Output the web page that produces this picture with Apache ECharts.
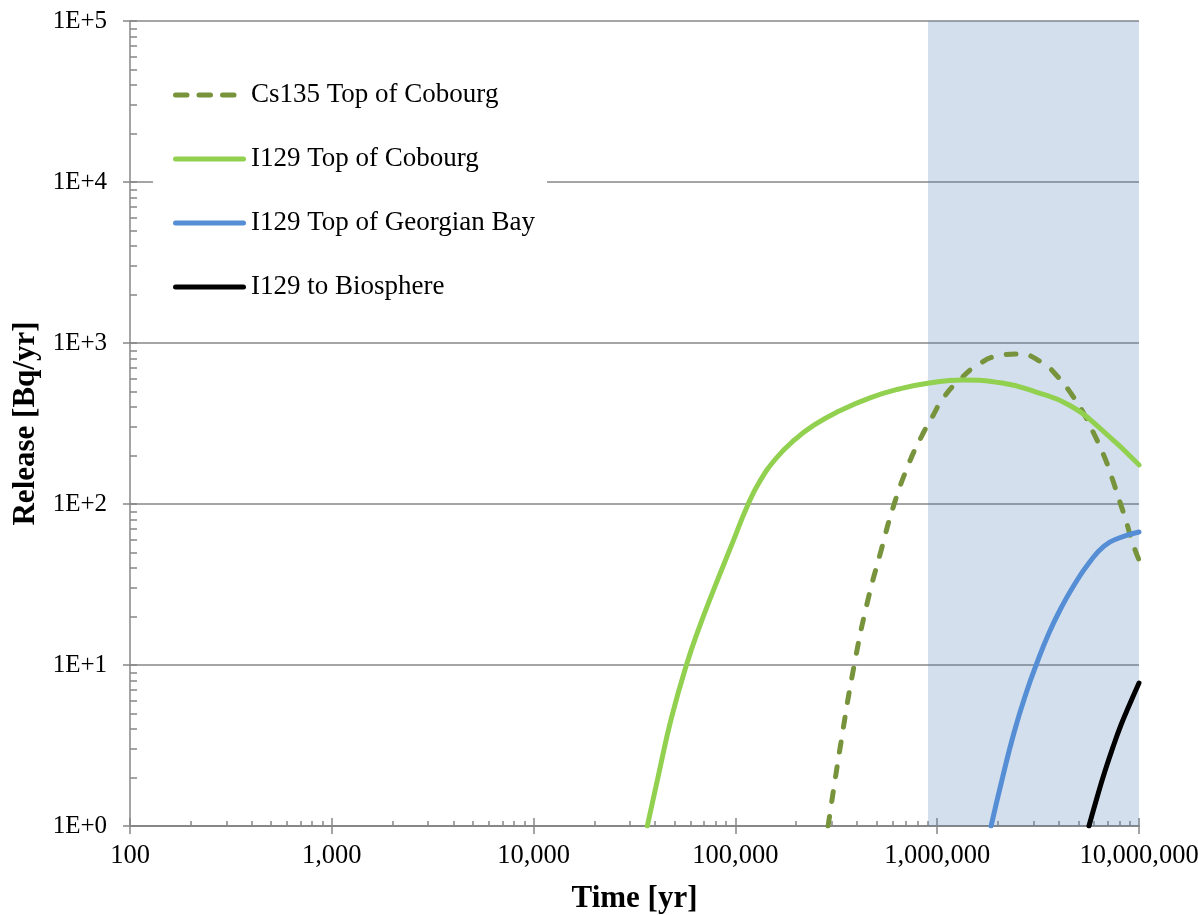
<!DOCTYPE html>
<html>
<head>
<meta charset="utf-8">
<script src="https://cdn.jsdelivr.net/npm/echarts@6/dist/echarts.min.js"></script>
<style>
html,body{margin:0;padding:0;background:#fff;}
#chart{width:1198px;height:915px;}
</style>
</head>
<body>
<div id="chart"></div>
<script>
// ---- Data ----
const seriesNames = ['Cs135 Top of Cobourg', 'I129 Top of Cobourg', 'I129 Top of Georgian Bay', 'I129 to Biosphere'];

const cs135CobourgTime = [288000, 335000, 388000, 450000, 528000, 612000, 726000, 834000, 945000, 1080000, 1320000, 1560000, 1980000, 2550000, 3270000, 3930000, 4660000, 5340000, 5990000, 6710000, 7350000, 7960000, 8630000, 9230000, 10000000];
const cs135CobourgRelease = [1, 3.42, 10, 24.3, 51.8, 100, 180, 261, 347, 462, 606, 719, 830, 854, 762, 624, 475, 362, 272, 199, 145, 107, 78.4, 58.9, 44.9];

const i129CobourgTime = [36600, 42100, 48200, 57200, 66300, 78700, 96700, 114600, 131500, 159600, 196000, 246000, 327000, 461000, 648000, 913000, 1330000, 2100000, 3090000, 4500000, 6560000, 10000000];
const i129CobourgRelease = [1, 2.23, 4.69, 10, 17.2, 30.1, 57.3, 97.2, 137, 193, 250, 310, 378, 455, 518, 564, 589, 564, 496, 412, 288, 175];

const i129GeorgianTime = [1850000, 2100000, 2400000, 2760000, 3130000, 3580000, 4110000, 4770000, 5650000, 6710000, 7960000, 10000000];
const i129GeorgianRelease = [1, 1.96, 3.78, 6.7, 10.4, 15.8, 22.6, 31.4, 43, 54.8, 61.5, 67];

const i129BiosphereTime = [5650000, 6200000, 6790000, 7430000, 8140000, 8910000, 10000000];
const i129BiosphereRelease = [1, 1.51, 2.2, 3.09, 4.24, 5.56, 7.73];

const shadedBand = [900000, 10000000];

const xMajorTicks = [100, 1000, 10000, 100000, 1000000, 10000000];
const yMajorTicks = [1, 10, 100, 1000, 10000, 100000];

// ---- helpers ----
function pairs(t, v) { return t.map((x, i) => [x, v[i]]); }
function minorTicksOf(majors) {
  const out = [];
  for (let i = 0; i < majors.length - 1; i++) {
    for (let k = 2; k <= 9; k++) out.push(Math.log10(majors[i] * k));
  }
  return out;
}
const xMajorExp = xMajorTicks.map(v => Math.log10(v));
const yMajorExp = yMajorTicks.map(v => Math.log10(v));
const xMinorExp = minorTicksOf(xMajorTicks);
const yMinorExp = minorTicksOf(yMajorTicks);

const FONT = 'Liberation Serif';
const AXIS_GRAY = '#878787';

// legend icons (73 x 5 box): three rounded dashes, or a rounded bar
const DASH_ICON = 'path://M2.5,0 h11.5 a2.5,2.5 0 0 1 0,5 h-11.5 a2.5,2.5 0 0 1 0,-5 z ' +
  'M26,0 h11.5 a2.5,2.5 0 0 1 0,5 h-11.5 a2.5,2.5 0 0 1 0,-5 z ' +
  'M49.5,0 h11.5 a2.5,2.5 0 0 1 0,5 h-11.5 a2.5,2.5 0 0 1 0,-5 z M73,0 L73,0 M73,5 L73,5 M0,0 L0,0';
const BAR_ICON = 'path://M2.5,0 h68 a2.5,2.5 0 0 1 0,5 h-68 a2.5,2.5 0 0 1 0,-5 z';

const chart = echarts.init(document.getElementById('chart'), null, {renderer: 'canvas'});

function lineSeries(name, data, color, dashed) {
  return {
    name: name,
    type: 'line',
    data: data,
    symbol: 'none',
    smooth: 0.5,
    z: 3,
    lineStyle: {
      color: color,
      width: 5,
      type: dashed ? [10, 15] : 'solid',
      cap: 'round'
    },
    itemStyle: {color: color}
  };
}

const option = {
  backgroundColor: '#ffffff',
  animation: false,
  grid: {left: 130, right: 59, top: 21, bottom: 89, containLabel: false, outerBoundsMode: 'none'},
  legend: {
    data: [
      {name: seriesNames[0], icon: DASH_ICON},
      {name: seriesNames[1], icon: BAR_ICON},
      {name: seriesNames[2], icon: BAR_ICON},
      {name: seriesNames[3], icon: BAR_ICON}
    ],
    orient: 'vertical',
    left: 153,
    top: 62,
    padding: [18, 12, 18, 20],
    itemGap: 34,
    itemWidth: 73,
    itemHeight: 5,
    backgroundColor: '#ffffff',
    textStyle: {fontFamily: FONT, fontSize: 27, color: '#000', lineHeight: 30}
  },
  xAxis: [
    {
      type: 'log', logBase: 10, min: 100, max: 10000000,
      name: 'Time [yr]', nameLocation: 'middle', nameGap: 57,
      nameTextStyle: {fontFamily: FONT, fontSize: 31, fontWeight: 'bold', color: '#000'},
      axisLine: {show: true, lineStyle: {color: AXIS_GRAY, width: 2}},
      axisTick: {show: true, inside: false, length: 8, lineStyle: {color: AXIS_GRAY, width: 1.5}},
      axisLabel: {fontFamily: FONT, fontSize: 26.5, color: '#000', margin: 17,
        formatter: v => Number(v).toLocaleString('en-US')},
      splitLine: {show: false},
      minorTick: {show: false}
    },
    {
      type: 'value', min: 2, max: 7, position: 'bottom', gridIndex: 0,
      axisLine: {show: false},
      axisTick: {show: true, inside: true, length: 5, customValues: xMinorExp, lineStyle: {color: AXIS_GRAY, width: 1.5}},
      axisLabel: {show: false},
      splitLine: {show: false}
    },
    {
      type: 'value', min: 2, max: 7, position: 'bottom', gridIndex: 0,
      axisLine: {show: false},
      axisTick: {show: true, inside: true, length: 8, customValues: xMajorExp, lineStyle: {color: AXIS_GRAY, width: 1.5}},
      axisLabel: {show: false},
      splitLine: {show: false}
    }
  ],
  yAxis: [
    {
      type: 'log', logBase: 10, min: 1, max: 100000,
      name: 'Release [Bq/yr]', nameLocation: 'middle', nameGap: 88,
      nameTextStyle: {fontFamily: FONT, fontSize: 31, fontWeight: 'bold', color: '#000'},
      axisLine: {show: true, lineStyle: {color: AXIS_GRAY, width: 1.5}},
      axisTick: {show: true, inside: false, length: 7, lineStyle: {color: AXIS_GRAY, width: 1.5}},
      axisLabel: {fontFamily: FONT, fontSize: 25, color: '#000', margin: 23,
        formatter: v => '1E+' + Math.round(Math.log10(v))},
      splitLine: {show: true, lineStyle: {color: AXIS_GRAY, width: 1.5}}
    },
    {
      type: 'value', min: 0, max: 5, position: 'left', gridIndex: 0,
      axisLine: {show: false},
      axisTick: {show: true, inside: true, length: 7, customValues: yMinorExp.concat(yMajorExp), lineStyle: {color: AXIS_GRAY, width: 1.5}},
      axisLabel: {show: false},
      splitLine: {show: false}
    }
  ],
  series: [
    lineSeries(seriesNames[0], pairs(cs135CobourgTime, cs135CobourgRelease), '#77933C', true),
    lineSeries(seriesNames[1], pairs(i129CobourgTime, i129CobourgRelease), '#92D050', false),
    lineSeries(seriesNames[2], pairs(i129GeorgianTime, i129GeorgianRelease), '#558ED5', false),
    lineSeries(seriesNames[3], pairs(i129BiosphereTime, i129BiosphereRelease), '#000000', false),
    {
      name: 'band',
      type: 'line',
      data: [],
      z: 6,
      silent: true,
      markArea: {
        silent: true,
        itemStyle: {color: 'rgba(80,128,184,0.25)'},
        data: [[{xAxis: shadedBand[0], yAxis: 1}, {xAxis: shadedBand[1], yAxis: 100000}]]
      }
    }
  ]
};
chart.setOption(option);
</script>
</body>
</html>
